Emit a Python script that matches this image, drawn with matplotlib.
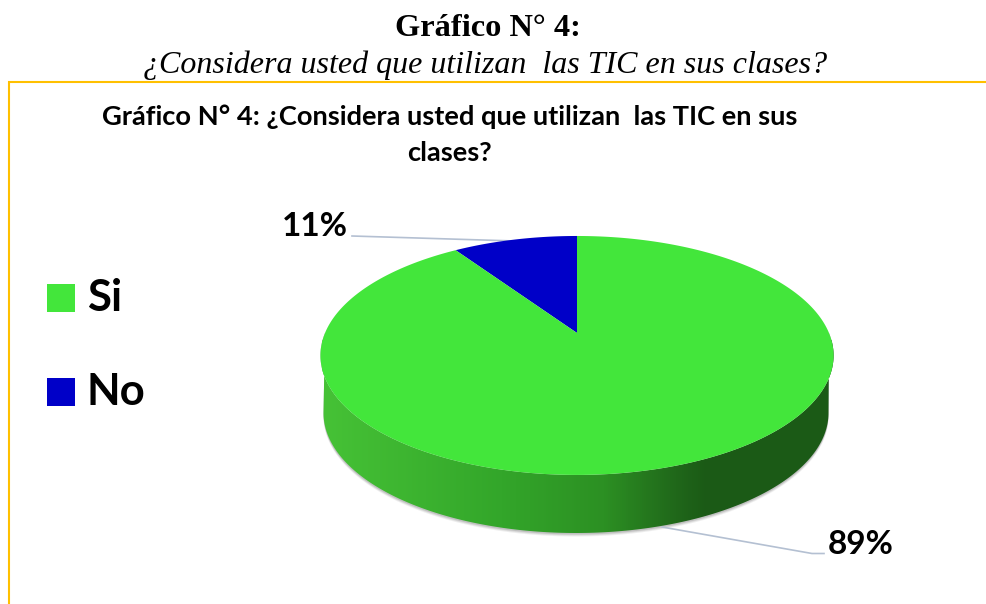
#!/usr/bin/env python3
import numpy as np
import matplotlib
matplotlib.use('Agg')
import matplotlib.pyplot as plt
from matplotlib.colors import LinearSegmentedColormap
from matplotlib.patches import Polygon, Rectangle

categories = ['Si', 'No']
labels = ['89%', '11%']
# drawn slice sizes, the printed labels differ a bit
slice_sizes = [90.6, 9.4]
colors = ['#43E63B', '#0000C8']

heading = 'Gráfico N° 4:'
question = '¿Considera usted que utilizan  las TIC en sus clases?'
chart_title = 'Gráfico N° 4: ¿Considera usted que utilizan  las TIC en sus\nclases?'

CX, CY = 577, 355


def project(theta):
    # tilted disc: unit circle to screen, far half squeezed
    x, y = np.cos(theta), np.sin(theta)
    w = 1 + 0.188 * y
    return CX + 252 * x / w, CY - (119.4 * y + 22) / w


fig = plt.figure(figsize=(9.86, 6.04), dpi=100)
ax = fig.add_axes([0, 0, 1, 1])
ax.set_xlim(0, 986)
ax.set_ylim(604, 0)
ax.axis('off')

# frame
ax.plot([986, 9, 9], [81.5, 81.5, 604], color='#FFC000', lw=1.5, solid_joinstyle='miter')

ax.text(488, 36, heading, family='Liberation Serif', weight='bold', fontsize=23.3, ha='center', va='baseline')
ax.text(485, 73, question, family='Liberation Serif', style='italic', fontsize=23, ha='center', va='baseline')
ax.text(450, 135, chart_title, family='Lato', weight='bold', fontsize=19.6, ha='center', va='center',
        linespacing=1.6)

# side wall
t = np.linspace(np.pi * 1.0, np.pi * 2.0, 200)
top_x, top_y = project(t)
bot_x = CX - 1 + 252.5 * np.cos(t)
bot_y = 413 - 120 * np.sin(t)
wall = np.r_[np.c_[top_x, top_y], np.c_[bot_x[::-1], bot_y[::-1]]]

for off, a in [(3.5, 0.10), (2.5, 0.14), (1.5, 0.2)]:
    sh = np.c_[bot_x, bot_y + off]
    ax.add_patch(Polygon(np.r_[np.c_[top_x, top_y], sh[::-1]], closed=True, fc='#606060', ec='none', alpha=a, zorder=1))

cmap = LinearSegmentedColormap.from_list('wall', [
    (0.0, '#46C236'), (0.35, '#33A62A'), (0.55, '#2C9023'), (0.68, '#216B1B'), (0.75, '#1B5A16'), (1.0, '#1B5A16')])
im = ax.imshow(np.linspace(0, 1, 256)[None, :], cmap=cmap, extent=[322, 834, 540, 340], aspect='auto', zorder=2)
im.set_clip_path(Polygon(wall, closed=True, transform=ax.transData))
ax.set_xlim(0, 986)
ax.set_ylim(604, 0)

# top of the pie, starts at 12 o'clock
shares = np.array(slice_sizes[::-1]) / sum(slice_sizes)
edges = np.pi / 2 + 2 * np.pi * np.r_[0, np.cumsum(shares)]
for i, c in enumerate(colors[::-1]):
    th = np.linspace(edges[i], edges[i + 1], 300)
    px, py = project(th)
    ax.fill(np.r_[CX, px], np.r_[CY - 22, py], color=c, lw=0, zorder=3)

# leader lines
ax.plot([352, 515], [236, 241], color='#B4C0D2', lw=1.2, zorder=1)
ax.plot([662, 812, 824], [527, 553.5, 553.5], color='#B4C0D2', lw=1.2, zorder=1)

ax.text(315, 227, labels[1], family='Lato', weight='bold', fontsize=24, ha='center', va='center')
ax.text(861, 544, labels[0], family='Lato', weight='bold', fontsize=24, ha='center', va='center')

# legend
for y, cat, c in zip([298, 392], categories, colors):
    ax.add_patch(Rectangle((47, y - 14), 28, 28, fc=c, ec='none'))
    ax.text(87, y, cat, family='Lato', weight='bold', fontsize=31.5, ha='left', va='center')

fig.savefig('out.png', dpi=100)
